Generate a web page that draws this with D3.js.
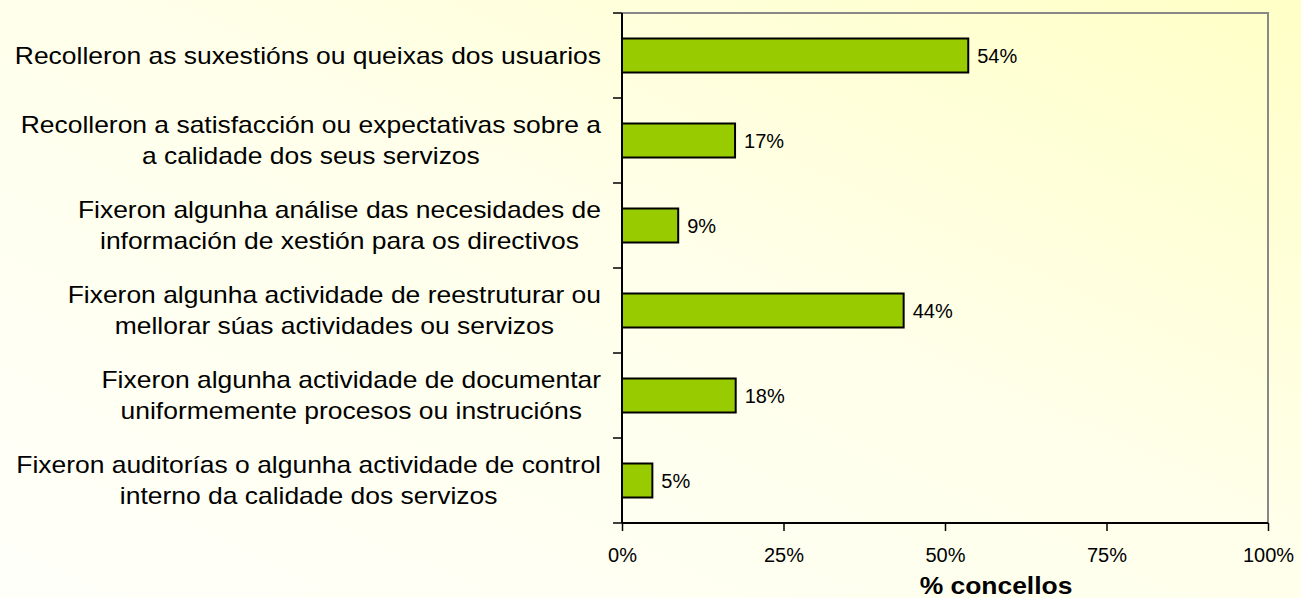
<!DOCTYPE html>
<html>
<head>
<meta charset="utf-8">
<script src="https://cdn.jsdelivr.net/npm/d3@7"></script>
<style>
  html, body { margin: 0; padding: 0; }
  svg { display: block; font-family: "Liberation Sans", Arial, sans-serif; }
</style>
</head>
<body>
<svg id="chart" width="1301" height="598"></svg>
<script>
const categories = [
  ["Recolleron as suxestións ou queixas dos usuarios"],
  ["Recolleron a satisfacción ou expectativas sobre a", "a calidade dos seus servizos"],
  ["Fixeron algunha análise das necesidades de", "información de xestión para os directivos"],
  ["Fixeron algunha actividade de reestruturar ou", "mellorar súas actividades ou servizos"],
  ["Fixeron algunha actividade de documentar", "uniformemente procesos ou instrucións"],
  ["Fixeron auditorías o algunha actividade de control", "interno da calidade dos servizos"]
];
const values = [53.6, 17.5, 8.7, 43.6, 17.6, 4.7];
const valueLabels = ["54%", "17%", "9%", "44%", "18%", "5%"];
const xTicks = [0, 25, 50, 75, 100];
const xTickLabels = ["0%", "25%", "50%", "75%", "100%"];
const axisTitle = "% concellos";

const W = 1301, H = 598;
const m = { left: 622, right: 1268, top: 13, bottom: 523 };
const stretch = 1.15;
const svg = d3.select("#chart");

const defs = svg.append("defs");
const grad = defs.append("linearGradient").attr("id", "bg")
  .attr("x1", "0%").attr("y1", "100%").attr("x2", "100%").attr("y2", "0%");
grad.append("stop").attr("offset", "0%").attr("stop-color", "#FFFFFA");
grad.append("stop").attr("offset", "55%").attr("stop-color", "#FFFFEA");
grad.append("stop").attr("offset", "100%").attr("stop-color", "#FFFFC6");
svg.append("rect").attr("width", W).attr("height", H).attr("fill", "url(#bg)");

const x = d3.scaleLinear().domain([0, 100]).range([m.left, m.right]);
const y = d3.scaleBand().domain(d3.range(categories.length)).range([m.top, m.bottom]).paddingInner(0.6).paddingOuter(0.3);
const yb = d3.scaleBand().domain(d3.range(categories.length)).range([m.top, m.bottom]);

// gray border top/right
svg.append("path")
  .attr("d", `M${m.left},${m.top}H${m.right}V${m.bottom}`)
  .attr("fill", "none").attr("stroke", "#888").attr("stroke-width", 2);

// bars
svg.selectAll("rect.bar").data(values).enter().append("rect")
  .attr("class", "bar")
  .attr("x", x(0))
  .attr("y", (d, i) => y(i))
  .attr("width", d => x(d) - x(0))
  .attr("height", y.bandwidth())
  .attr("fill", "#99CC00").attr("stroke", "#000").attr("stroke-width", 2);

// value labels
svg.selectAll("text.val").data(values).enter().append("text")
  .attr("class", "val")
  .attr("x", d => x(d) + 9)
  .attr("y", (d, i) => y(i) + y.bandwidth() / 2)
  .attr("dy", "0.35em")
  .attr("font-size", 20).attr("fill", "#000")
  .text((d, i) => valueLabels[i]);

// x axis
const xAxis = d3.axisBottom(x).tickValues(xTicks).tickFormat((d, i) => xTickLabels[i]).tickSize(8).tickPadding(17);
const gx = svg.append("g").attr("transform", `translate(0,${m.bottom})`).call(xAxis);
gx.select(".domain").attr("stroke", "#000").attr("stroke-width", 2).attr("d", `M${m.left},0H${m.right}`);
gx.selectAll(".tick line").attr("stroke", "#000").attr("stroke-width", 1.5);
gx.selectAll(".tick text").attr("font-size", 20).attr("fill", "#000").attr("font-family", "Liberation Sans, Arial, sans-serif");

// y axis line and ticks at band boundaries
svg.append("line").attr("x1", m.left).attr("x2", m.left).attr("y1", m.top).attr("y2", m.bottom)
  .attr("stroke", "#000").attr("stroke-width", 2);
const bounds = d3.range(categories.length + 1).map(i => i < categories.length ? yb(i) : m.bottom);
svg.selectAll("line.ytick").data(bounds).enter().append("line")
  .attr("x1", m.left - 9).attr("x2", m.left)
  .attr("y1", d => d).attr("y2", d => d)
  .attr("stroke", "#000").attr("stroke-width", 1.5);

// category labels (horizontally stretched like the reference)
const lineH = 31;
const rightEdge = 601;
categories.forEach((lines, i) => {
  const cy = yb(i) + yb.bandwidth() / 2;
  const g = svg.append("g").attr("transform", `translate(${rightEdge},0) scale(${stretch},1)`);
  const texts = lines.map((t, j) => g.append("text")
    .attr("y", cy + (j - (lines.length - 1) / 2) * lineH)
    .attr("dy", "0.35em")
    .attr("font-size", 23).attr("fill", "#000")
    .attr("text-anchor", "middle")
    .text(t));
  const maxW = d3.max(texts, t => t.node().getComputedTextLength());
  texts.forEach(t => t.attr("x", -maxW / 2));
});

// axis title
svg.append("g").attr("transform", `translate(996,586) scale(${stretch},1)`)
  .append("text")
  .attr("dy", "0.35em")
  .attr("text-anchor", "middle").attr("font-size", 23).attr("font-weight", "bold").attr("fill", "#000")
  .text(axisTitle);
</script>
</body>
</html>
